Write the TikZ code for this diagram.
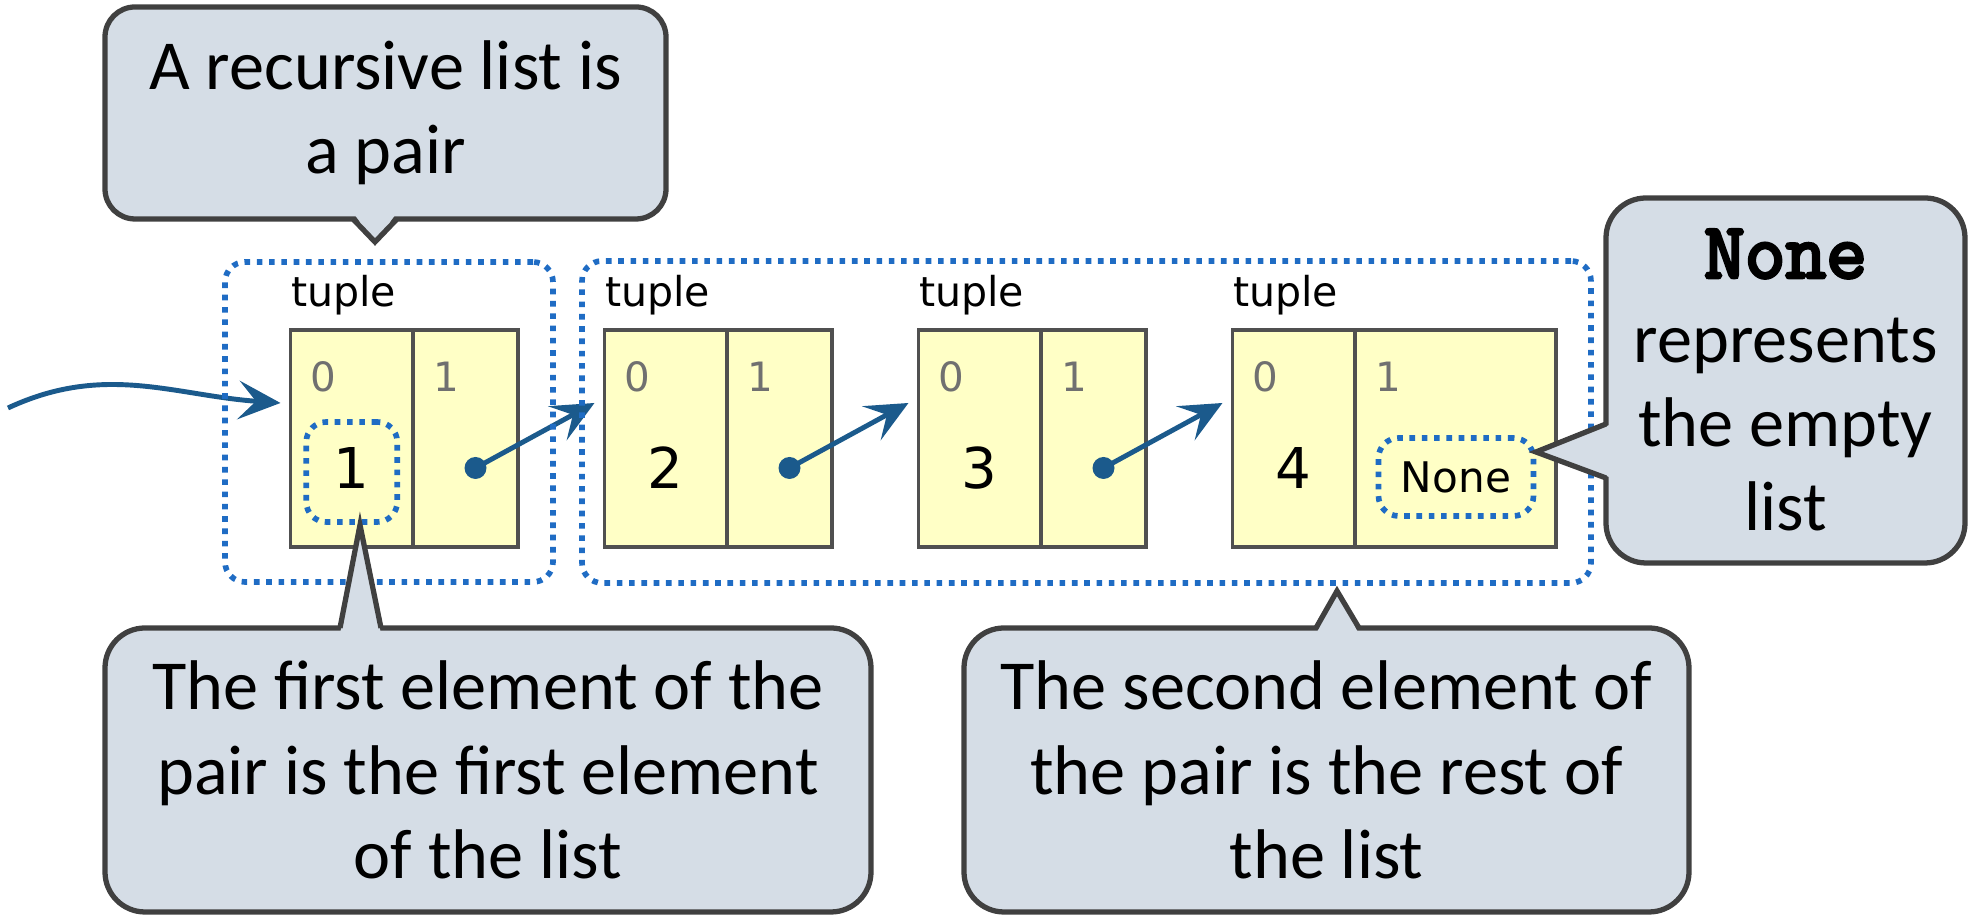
\documentclass[tikz,border=0pt]{standalone}
\usepackage{fontspec}
\setmainfont{Carlito}
\newfontfamily\boxfont{DejaVu Sans}
\newfontfamily\codefont[FakeBold=4]{Latin Modern Mono}
\usetikzlibrary{arrows.meta,positioning}
\definecolor{bubblefill}{HTML}{D5DDE6}
\definecolor{bubbleline}{HTML}{404040}
\definecolor{boxfill}{HTML}{FFFFC6}
\definecolor{boxline}{HTML}{505050}
\definecolor{ringblue}{HTML}{1F6CC4}
\definecolor{ptrblue}{HTML}{1B5A8C}
\definecolor{idxgray}{HTML}{707070}

\begin{document}
\begin{tikzpicture}[font=\fontsize{20}{24}\selectfont,
  cell/.style={draw=boxline,fill=boxfill,line width=1pt,minimum height=2.17cm,inner sep=0pt,outer sep=0pt},
  ring/.style={draw=ringblue,line width=1.6pt,dash pattern=on 1.6pt off 1.9pt,rounded corners=0.2cm,inner sep=0pt},
  bubble/.style={draw=bubbleline,fill=bubblefill,line width=1.5pt,rounded corners=0.4cm,align=center,inner sep=0pt,outer sep=0pt},
  lip/.style={draw=bubbleline,line width=1.5pt},
  ptr/.style={ptrblue,line width=1.4pt,-{Stealth[length=12pt,width=11pt,inset=5pt]}},
  idx/.style={text=idxgray,inner sep=0pt,font=\boxfont\fontsize{11.5}{12}\selectfont},
  val/.style={inner sep=0pt,font=\boxfont\fontsize{16}{18}\selectfont},
  knob/.style={circle,fill=ptrblue,minimum size=0.22cm,inner sep=0pt}]
  \useasboundingbox (0,0) rectangle (19.76,9.16);
  % the four tuples
  \foreach \i in {1,...,4} {
    \node[cell,minimum width=1.225cm] (l\i) at ({3.5175+3.14*(\i-1)},4.775) {};
    \node[anchor=base west,inner sep=0pt,font=\boxfont\fontsize{11.7}{14}\selectfont] (t\i) at ([yshift=0.23cm]l\i.north west) {tuple};
    \node[idx] (z\i) at ([xshift=0.33cm,yshift=-0.47cm]l\i.north west) {0};
    \node[val] (v\i) at ([yshift=-0.295cm]l\i.center) {\i};
    \coordinate (in\i) at ([xshift=-0.1cm,yshift=-0.73cm]l\i.north west);
  }
  \foreach \i in {1,2,3} \node[cell,minimum width=1.05cm,right=0pt of l\i] (r\i) {};
  \node[cell,minimum width=2.01cm,right=0pt of l4] (r4) {};
  \foreach \i in {1,...,4} \node[idx] (o\i) at ([xshift=0.33cm,yshift=-0.47cm]r\i.north west) {1};
  \foreach \i in {1,2,3} \node[knob] (d\i) at ([xshift=0.1cm,yshift=-0.295cm]r\i.center) {};
  \foreach \i/\j in {1/2,2/3,3/4} \draw[ptr] (d\i.center) -- (in\j);
  \coordinate (start) at (0.08,5.08);
  \draw[ptr] (start) to[out=25,in=176] (in1);
  % dotted outlines
  \node[ring,minimum width=0.91cm,minimum height=1cm] (first) at ([yshift=-0.04cm]v1) {};
  \node[ring,minimum width=1.55cm,minimum height=0.78cm,font=\boxfont\fontsize{12}{14}\selectfont] (none) at ([xshift=0.005cm,yshift=-0.385cm]r4.center) {None};
  \node[ring,minimum width=3.28cm,minimum height=3.2cm] (pair) at (3.89,4.94) {};
  \node[ring,minimum width=10.09cm,minimum height=3.22cm] (rest) at (10.865,4.94) {};
  % callouts
  \node[bubble,rounded corners=0.3cm,minimum width=5.61cm,minimum height=2.12cm] (head) at (3.855,8.03) {A recursive list is\\a pair};
  \coordinate (headtip) at (3.75,6.74);
  \fill[bubblefill] ([xshift=-0.325cm,yshift=1.8pt]head.south) -- (headtip) -- ([xshift=0.115cm,yshift=1.8pt]head.south) -- cycle;
  \draw[lip] ([xshift=-0.325cm]head.south) -- (headtip) -- ([xshift=0.115cm]head.south);
  \node[bubble,minimum width=3.59cm,minimum height=3.65cm] (empty) at (17.855,5.355) {{\codefont\fontsize{22.5}{24}\selectfont None}\\represents\\the empty\\list};
  \coordinate (emptytip) at (15.36,4.64);
  \fill[bubblefill] ([xshift=1.8pt,yshift=-0.435cm]empty.west) -- (emptytip) -- ([xshift=1.8pt,yshift=-0.975cm]empty.west) -- cycle;
  \draw[lip] ([yshift=-0.435cm]empty.west) -- (emptytip) -- ([yshift=-0.975cm]empty.west);
  \node[bubble,minimum width=7.66cm,minimum height=2.84cm] (car) at (4.88,1.46) {The first element of the\\pair is the first element\\of the list};
  \coordinate (cartip) at (3.60,3.91);
  \fill[bubblefill] ([xshift=-1.48cm,yshift=-1.8pt]car.north) -- (cartip) -- ([xshift=-1.07cm,yshift=-1.8pt]car.north) -- cycle;
  \draw[lip] ([xshift=-1.48cm]car.north) -- (cartip) -- ([xshift=-1.07cm]car.north);
  \node[bubble,minimum width=7.25cm,minimum height=2.84cm] (cdr) at (13.265,1.46) {The second element of\\the pair is the rest of\\the list};
  \coordinate (cdrtip) at (13.37,3.25);
  \fill[bubblefill] ([xshift=-0.105cm,yshift=-1.8pt]cdr.north) -- (cdrtip) -- ([xshift=0.325cm,yshift=-1.8pt]cdr.north) -- cycle;
  \draw[lip] ([xshift=-0.105cm]cdr.north) -- (cdrtip) -- ([xshift=0.325cm]cdr.north);
\end{tikzpicture}
\end{document}
